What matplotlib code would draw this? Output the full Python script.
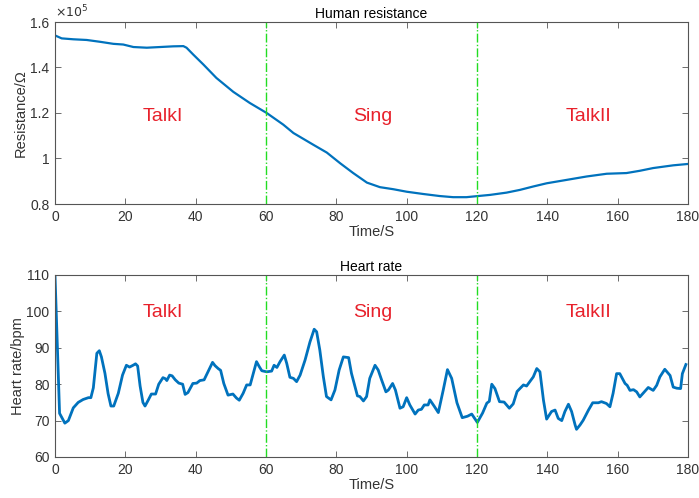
import matplotlib
matplotlib.use("Agg")
import matplotlib.pyplot as plt
from matplotlib.ticker import FuncFormatter

plt.rcParams['font.family'] = ['Liberation Sans', 'DejaVu Sans']

# ---- Data ----
res_t = [0, 1.9, 5.2, 9, 12.8, 16.6, 19.4, 22.3, 26.1, 29.9, 33.6, 36.5, 37.4, 39.3,
         42.2, 45.9, 50.7, 55.4, 60.2, 64.9, 67.8, 73.5, 77.3, 81.1, 84.8, 88.7,
         92.4, 96.2, 100, 104.7, 109.4, 113.2, 117, 120.3, 123.7, 128.4, 132.2,
         136, 139.8, 145.5, 151.2, 156.9, 162.5, 166.3, 170.1, 175.8, 180]
res_ohm = [154100, 152800, 152400, 152100, 151300, 150400, 150100, 149000, 148700,
           149000, 149300, 149400, 148700, 145700, 141300, 135400, 129300, 124400,
           120000, 114900, 111200, 106000, 102600, 97900, 93600, 89400, 87400,
           86500, 85400, 84400, 83500, 83000, 83000, 83500, 84000, 85000, 86200,
           87700, 89100, 90600, 92100, 93300, 93600, 94600, 95800, 97000, 97600]

hr_t = [0, 1.3, 2.8, 3.8, 5.2, 6.6, 8, 9.5, 10.2, 10.9, 11.9, 12.6, 13.2, 14.2, 15.1,
        15.9, 16.7, 18, 19.2, 20.3, 21.2, 22.2, 22.9, 23.5, 24.2, 25, 25.6, 26.5,
        27.4, 28.6, 29.5, 30.7, 31.4, 31.8, 32.6, 33.3, 34.2, 35.2, 36.3, 37.0, 37.8,
        39.2, 40.3, 41.2, 42.4, 43.5, 44.8, 45.5, 46.4, 47.1, 48, 49.2, 50.6, 51.6,
        52.4, 53.5, 54.5, 55.5, 56.4, 57.3, 58.1, 58.8, 60.2, 61.6, 62.3, 63.1, 64,
        65.2, 65.9, 66.8, 67.8, 68.7, 69.7, 71.1, 72.5, 73.7, 74.4, 75.3, 76.3, 77.2,
        78.5, 79.6, 80.8, 82, 83.5, 84.3, 85.3, 86, 86.7, 87.7, 88.6, 89.5, 91, 91.9,
        92.9, 94.1, 94.8, 96, 96.8, 98.1, 99, 100, 100.9, 102.4, 103.3, 104.2, 105,
        106.1, 106.6, 107.8, 109, 110.4, 111.6, 112.8, 114.3, 115.8, 117.3, 118.5,
        120.1, 121.6, 122.8, 123.5, 124.2, 125.1, 126.4, 127.7, 129.2, 130.3, 131.4,
        133.2, 134.1, 135, 136, 137, 137.9, 138.9, 139.8, 141.2, 142.2, 143.1, 144.1,
        145, 146, 146.9, 147.9, 148.3, 149.3, 150.2, 151.7, 152.9, 154.5, 155.4,
        156.8, 157.8, 158.7, 159.7, 160.6, 162.1, 162.7, 163.5, 164.5, 165.4, 166.3,
        167.3, 168.7, 170.1, 171.1, 172, 173.4, 174.9, 175.8, 176.8, 177.9, 178.4,
        179.4]
hr_bpm = [110, 72, 69.3, 70, 73.5, 75, 75.8, 76.3, 76.3, 79, 88.5, 89.2, 87.5, 83,
          77.4, 74, 74, 77.5, 82.5, 85.2, 84.7, 85.2, 85.6, 85, 79.5, 75, 74, 75.6,
          77.3, 77.3, 80, 81.8, 81.5, 81, 82.5, 82.3, 81.2, 80.3, 80, 77.2, 77.7,
          80.2, 80.3, 81, 81.2, 83.4, 86, 85.1, 84.3, 83.8, 80.2, 77, 77.3, 76.2,
          75.6, 77.5, 79.8, 79.8, 83, 86.2, 84.8, 83.7, 83.4, 83.6, 85.2, 84.6, 86.2,
          88, 85.7, 81.9, 81.6, 80.7, 82.5, 86.6, 91.6, 95.1, 94.4, 89.4, 82.1, 76.6,
          75.7, 78.4, 83.9, 87.5, 87.3, 83, 79.3, 76.8, 76.6, 75.4, 76.6, 81.6, 85.2,
          83.9, 81.1, 77.9, 78.4, 80.2, 78.4, 73.4, 73.8, 76.3, 74.3, 71.8, 72.9,
          73.1, 74.3, 74.3, 75.7, 74, 72.2, 78.4, 84, 81.6, 74.9, 70.8, 71.2, 71.8,
          69.5, 72.1, 74.8, 75.3, 80, 78.8, 75.2, 75.1, 73.4, 74.6, 78, 79.8, 79.5,
          80.7, 82, 84.3, 83.4, 75.6, 70.4, 72.5, 72.9, 70.6, 70, 72.5, 74.5, 72.5,
          68.8, 67.6, 68.8, 70.1, 72.9, 74.9, 74.9, 75.2, 74.7, 73.8, 77.5, 82.9,
          82.9, 80.2, 79.7, 78.3, 78.5, 77.9, 76.5, 77.6, 79.1, 78.3, 79.7, 82, 84.1,
          82.4, 79.2, 78.9, 78.8, 82.9, 85.4]

phase_bounds = [60, 120]
phase_names = ["TalkI", "Sing", "TalkII"]
phase_x = [30.7, 90.4, 151.8]

# ---- Figure ----
fig = plt.figure(figsize=(6.99, 4.98), dpi=100)
ax1 = fig.add_axes([55/699, 1-204/498, 633/699, 182/498])
ax2 = fig.add_axes([55/699, 1-457/498, 633/699, 182/498])

blue = '#0072BD'
green = '#22dd22'
red = '#e8212b'
tc = '#333333'

def style(ax):
    ax.tick_params(direction='in', top=True, right=True, length=4, width=0.6,
                   colors='#555555', labelcolor=tc, labelsize=10, pad=4)
    for s in ax.spines.values():
        s.set_color('#555555')
        s.set_linewidth(0.8)

ax1.plot(res_t, res_ohm, color=blue, lw=1.6)
for b in phase_bounds:
    ax1.axvline(b, color=green, ls='-.', lw=1.0)
ax1.set_xlim(0, 180)
ax1.set_ylim(80000, 160000)
ax1.set_xticks(range(0, 181, 20))
ax1.set_yticks([80000, 100000, 120000, 140000, 160000])
ax1.yaxis.set_major_formatter(FuncFormatter(lambda v, p: '%g' % (v / 1e5)))
style(ax1)
ax1.set_title('Human resistance', fontsize=10, color='black', pad=3)
ax1.set_xlabel('Time/S', fontsize=10.5, color=tc, labelpad=1)
ax1.set_ylabel('Resistance/\u03a9', fontsize=10.5, color=tc, labelpad=2)
ax1.text(0.0, 1.01, r'$\times10^{5}$', transform=ax1.transAxes, fontsize=9,
         color=tc, ha='left', va='bottom', family='DejaVu Sans')
for name, x in zip(phase_names, phase_x):
    ax1.text(x, 118400, name, color=red, fontsize=14, ha='center', va='center')

ax2.plot(hr_t, hr_bpm, color=blue, lw=2.0)
for b in phase_bounds:
    ax2.axvline(b, color=green, ls='-.', lw=1.0)
ax2.set_xlim(0, 180)
ax2.set_ylim(60, 110)
ax2.set_xticks(range(0, 181, 20))
ax2.set_yticks(range(60, 111, 10))
style(ax2)
ax2.set_title('Heart rate', fontsize=10, color='black', pad=3)
ax2.set_xlabel('Time/S', fontsize=10.5, color=tc, labelpad=1)
ax2.set_ylabel('Heart rate/bpm', fontsize=10.5, color=tc, labelpad=1)
for name, x in zip(phase_names, phase_x):
    ax2.text(x, 99.6, name, color=red, fontsize=14, ha='center', va='center')

fig.savefig('out.png', dpi=100)
